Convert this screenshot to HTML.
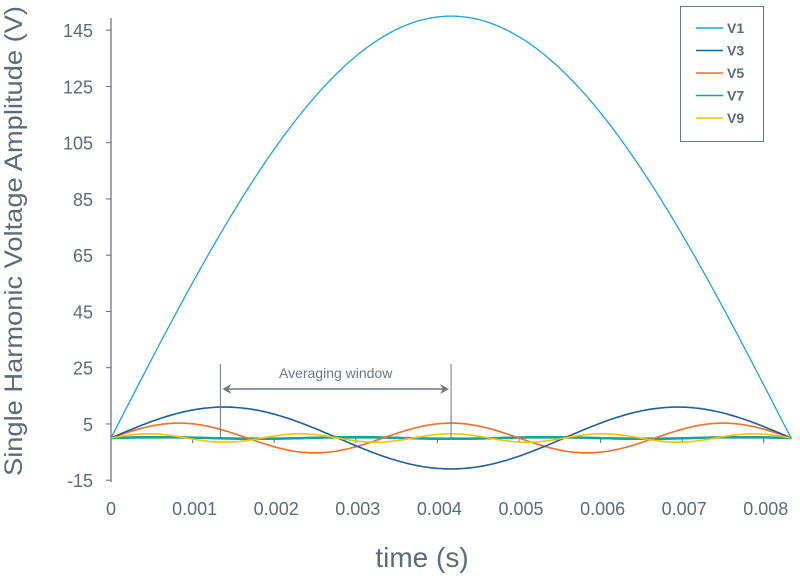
<!DOCTYPE html>
<html><head><meta charset="utf-8"><style>
body{margin:0;background:#fff;}
svg{display:block;font-family:"Liberation Sans",sans-serif;}
</style></head><body>
<svg id="chart" width="800" height="582" viewBox="0 0 800 582">
<g id="axes"></g>
<g id="series"></g>
<g id="annot"></g>
<text x="22" y="241" transform="rotate(-90 22 241)" text-anchor="middle" font-size="25" textLength="470" lengthAdjust="spacingAndGlyphs" fill="#5d6b78">Single Harmonic Voltage Amplitude (V)</text>
<text x="422" y="567" text-anchor="middle" font-size="28" fill="#5d6b78">time (s)</text>
<g id="legend"></g>
</svg>
<script>
const seriesNames = ["V1","V3","V5","V7","V9"];
const harmonicOrders = [1,3,5,7,9];
const amplitudes = [150,11,5.3,0.3,1.5];
const seriesColors = ["#1aa3dc","#1f5f9e","#f26f2a","#13a49c","#f5c400"];
const yTicks = [145,125,105,85,65,45,25,5,-15];
const xTicks = ["0","0.001","0.002","0.003","0.004","0.005","0.006","0.007","0.008"];
const fundamentalHz = 60;
const tEnd = 0.008333;
const windowStart = 0.00134, windowEnd = 0.004167;

const NS="http://www.w3.org/2000/svg";
const X0=111, XS=81.6/0.001, Y0=438, YS=56.25/20;
const xs=t=>X0+t*XS, ys=v=>Y0-v*YS;
function mk(tag,attrs,parent){const e=document.createElementNS(NS,tag);for(const k in attrs)e.setAttribute(k,attrs[k]);parent.appendChild(e);return e;}
const axes=document.getElementById('axes');
const grey="#5d6b78";
let e=mk('line',{x1:X0,y1:18,x2:X0,y2:482,stroke:grey,'stroke-width':1.2},axes);


e=mk('line',{x1:X0,y1:Y0,x2:792,y2:Y0,stroke:grey,'stroke-width':1.2},axes);


yTicks.forEach(v=>{
  const y=ys(v);
  let t=mk('line',{x1:X0-5,y1:y,x2:X0,y2:y,stroke:grey},axes);
  
  
  let l=mk('text',{x:93,y:y+7,'text-anchor':'end','font-size':18,fill:grey},axes);
  l.textContent=v;
  
  
});
xTicks.forEach(s=>{
  const x=xs(parseFloat(s));
  let t=mk('line',{x1:x,y1:Y0,x2:x,y2:Y0+5,stroke:grey},axes);
  
  
  let l=mk('text',{x:x+(s==="0"?0:2),y:515,'text-anchor':'middle','font-size':18,fill:grey},axes);
  l.textContent=s;
  
  
});
const sg=document.getElementById('series');
const order=[3,2,1,4,0];
order.forEach(i=>{
  let pts=[];
  const N=400;
  for(let k=0;k<=N;k++){const t=tEnd*k/N;const v=amplitudes[i]*Math.sin(2*Math.PI*fundamentalHz*harmonicOrders[i]*t);pts.push(xs(t).toFixed(1)+","+ys(v).toFixed(1));}
  let p=mk('polyline',{points:pts.join(" "),fill:"none",stroke:seriesColors[i],'stroke-width':i==3?2.5:(i==0?1.3:1.6)},sg);
  
  
});
const an=document.getElementById('annot');
const ac="#6b7884";
[windowStart,windowEnd].forEach(t=>{
  let l=mk('line',{x1:xs(t),y1:364,x2:xs(t),y2:Y0,stroke:ac,'stroke-width':1},an);
  
  
});
const ax1=xs(windowStart)+2, ax2=xs(windowEnd)-2;
e=mk('line',{x1:ax1+6,y1:389,x2:ax2-6,y2:389,stroke:ac,'stroke-width':1.5},an);


e=mk('path',{d:`M${ax1},389 l9,-5 l-3,5 l3,5 z M${ax2},389 l-9,-5 l3,5 l-3,5 z`,fill:ac},an);


e=mk('text',{x:(ax1+ax2)/2,y:378,'text-anchor':'middle','font-size':14,fill:ac},an);
e.textContent="Averaging window";


const lg=document.getElementById('legend');
e=mk('rect',{x:680.5,y:6.5,width:83,height:135,fill:"#fff",stroke:"#6b7884",'stroke-width':1},lg);


seriesNames.forEach((n,i)=>{
  const y=28+i*22.5;
  let g=mk('g',{},lg);
  
  
  mk('line',{x1:696,y1:y,x2:723,y2:y,stroke:seriesColors[i],'stroke-width':1.6},g);
  let t=mk('text',{x:727,y:y+5,'font-size':14,'font-weight':'bold',fill:"#5d6b78"},g);
  t.textContent=n;
});
</script>
</body></html>
